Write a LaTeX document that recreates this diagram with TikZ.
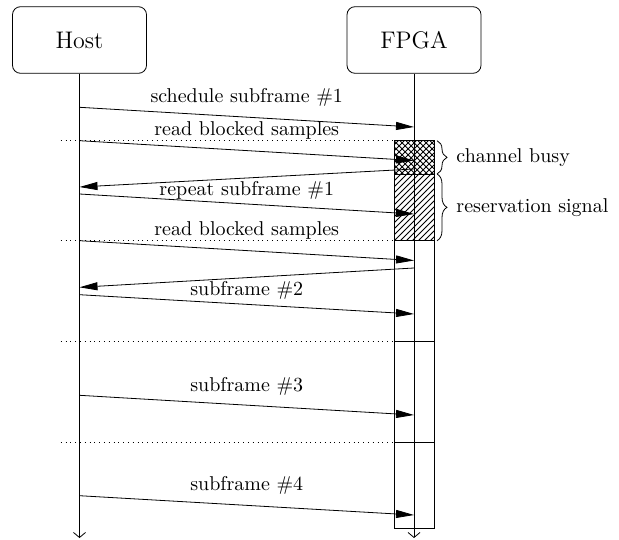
\documentclass[tikz,border=0pt]{standalone}
\usetikzlibrary{arrows.meta,patterns,decorations.pathreplacing}
\begin{document}
\begin{tikzpicture}[x=0.5pt,y=-0.5pt,
  actor/.style={draw, rounded corners=4pt, minimum width=67pt, minimum height=33.3pt, font=\large},
  msg/.style={-{Triangle[length=9pt,width=4pt]}},
  lbl/.style={midway, inner sep=0pt, anchor=center},
  life/.style={-{Straight Barb[length=2.5pt,width=6pt]}},
  sepline/.style={dotted},
  bracelbl/.style={midway, anchor=west, inner sep=0pt, xshift=9.5pt}]
\useasboundingbox (0,0) rectangle (619,539);
% actors
\node[actor] (host) at (79.5,40) {Host};
\node[actor] (fpga) at (414,40) {FPGA};
% activity bar
\fill[pattern=crosshatch] (394,140.7) rectangle (434.3,174);
\fill[pattern=north east lines] (394,174) rectangle (434.3,240.7);
\draw (394,140.7) rectangle (434.3,528.7);
\draw (394,174) -- (434.3,174);
\draw (394,240.7) -- (434.3,240.7);
\draw (394,341.3) -- (434.3,341.3);
\draw (394,442) -- (434.3,442);
% lifelines
\coordinate (hend) at (79.5,538);
\coordinate (fend) at (414,538);
\draw[life] (host.south) -- (hend);
\draw[life] (fpga.south) -- (fend);
% separators
\coordinate (s1a) at (60.7,140.7); \coordinate (s1b) at (394,140.7);
\coordinate (s2a) at (60.7,240.7); \coordinate (s2b) at (394,240.7);
\coordinate (s3a) at (60.7,341.3); \coordinate (s3b) at (394,341.3);
\coordinate (s4a) at (60.7,442);   \coordinate (s4b) at (394,442);
\draw[sepline] (s1a) -- (s1b);
\draw[sepline] (s2a) -- (s2b);
\draw[sepline] (s3a) -- (s3b);
\draw[sepline] (s4a) -- (s4b);
% message end points
\coordinate (h1) at (79.5,107.3); \coordinate (f1) at (414,127);
\coordinate (h2) at (79.5,140.7); \coordinate (f2) at (414,160.5);
\coordinate (f3) at (414,169);    \coordinate (h3) at (79.5,187);
\coordinate (h4) at (79.5,194);   \coordinate (f4) at (414,214);
\coordinate (h5) at (79.5,240.7); \coordinate (f5) at (414,260.5);
\coordinate (f6) at (414,268);    \coordinate (h6) at (79.5,287.3);
\coordinate (h7) at (79.5,294.7); \coordinate (f7) at (414,314);
\coordinate (h8) at (79.5,395.3); \coordinate (f8) at (414,415);
\coordinate (h9) at (79.5,495.7); \coordinate (f9) at (414,515);
% messages
\draw[msg] (h1) -- (f1) node[lbl, yshift=10pt] (l1) {schedule subframe \#1};
\draw[msg] (h2) -- (f2) node[lbl, yshift=9.8pt] (l2) {read blocked samples};
\draw[msg] (f3) -- (h3);
\draw[msg] (h4) -- (f4) node[lbl, yshift=6.8pt] (l4) {repeat subframe \#1};
\draw[msg] (h5) -- (f5) node[lbl, yshift=9.9pt] (l5) {read blocked samples};
\draw[msg] (f6) -- (h6);
\draw[msg] (h7) -- (f7) node[lbl, yshift=7.2pt] (l7) {subframe \#2};
\draw[msg] (h8) -- (f8) node[lbl, yshift=9.5pt] (l8) {subframe \#3};
\draw[msg] (h9) -- (f9) node[lbl, yshift=10pt] (l9) {subframe \#4};
% braces
\coordinate (b1) at (437,140.7); \coordinate (b2) at (437,174); \coordinate (b3) at (437,240.7);
\draw[decorate, decoration={brace, amplitude=5pt}] (b1) -- (b2) node[bracelbl] (cb) {channel busy};
\draw[decorate, decoration={brace, amplitude=5pt}] (b2) -- (b3) node[bracelbl] (rs) {reservation signal};
\end{tikzpicture}
\end{document}
